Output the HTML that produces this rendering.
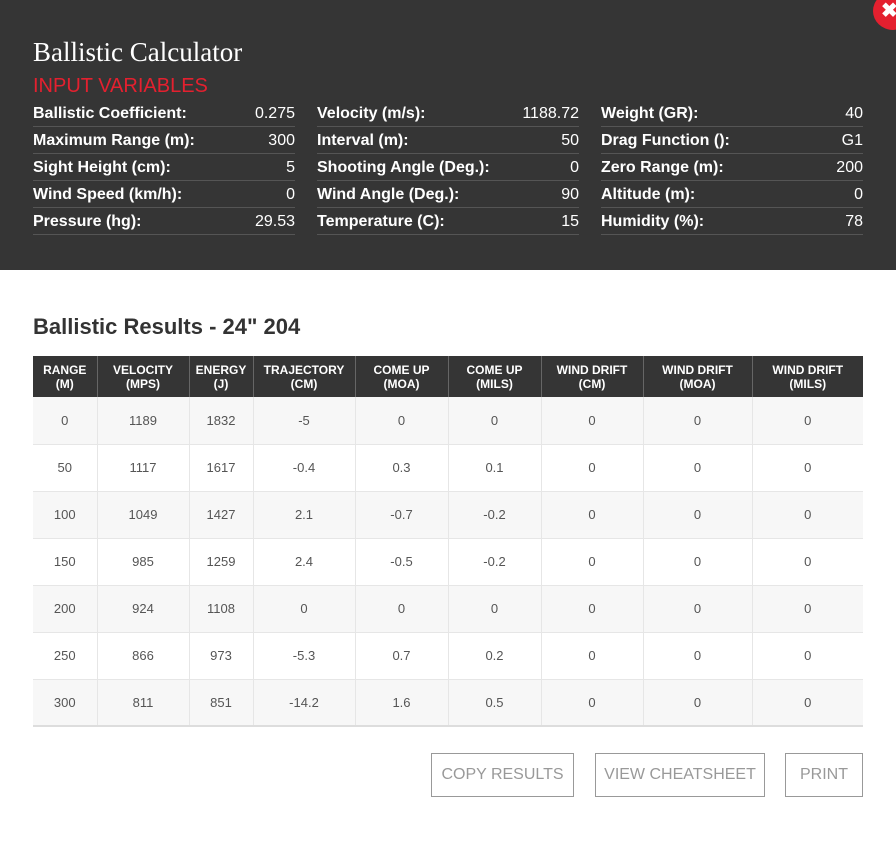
<!DOCTYPE html>
<html><head><meta charset="utf-8"><style>
*{margin:0;padding:0;box-sizing:border-box}
body{width:896px;height:851px;background:#fff;font-family:"Liberation Sans",sans-serif;position:relative;overflow:hidden}
.top{position:absolute;left:0;top:0;width:896px;height:270px;background:#353535}
.close{position:absolute;left:873px;top:-8px;width:40px;height:38px;border-radius:50%;background:#e4202f;color:#fff;font-weight:bold;font-size:20px;line-height:38px;padding-left:8px}
h1{position:absolute;left:33px;top:37px;font-family:"Liberation Serif",serif;font-weight:normal;color:#fff;font-size:27px}
.iv{position:absolute;left:33px;top:75px;color:#e4202f;font-size:20px}
.col{position:absolute;top:100px;width:262px}
.r{height:27px;border-bottom:1px solid #555;display:flex;justify-content:space-between;align-items:center;color:#fff;font-size:16px;padding-top:1px}
.r b{font-weight:bold}
h2{position:absolute;left:33px;top:314px;font-size:22px;color:#333;font-weight:bold}
table{position:absolute;left:33px;top:356px;width:830px;border-collapse:collapse;font-size:13px;color:#555;border-bottom:2px solid #ddd}
th{background:#353535;color:#fff;font-size:12px;font-weight:bold;height:41px;line-height:14px;border-left:1px solid #666;padding-top:1px}
th:first-child{border-left:none}
td{height:47px;text-align:center;border-left:1px solid #e6e6e6;border-bottom:1px solid #e6e6e6}
td:first-child{border-left:none}
tr:nth-child(even) td{background:#f7f7f7}
.btn{position:absolute;top:753px;height:44px;border:1px solid #999;color:#999;font-size:16px;text-align:center;line-height:42px}
</style></head><body>
<div class="top"></div>
<div class="close">✖</div>
<h1>Ballistic Calculator</h1>
<div class="iv">INPUT VARIABLES</div>
<div class="col" style="left:33px">
<div class="r"><b>Ballistic Coefficient:</b><span>0.275</span></div>
<div class="r"><b>Maximum Range (m):</b><span>300</span></div>
<div class="r"><b>Sight Height (cm):</b><span>5</span></div>
<div class="r"><b>Wind Speed (km/h):</b><span>0</span></div>
<div class="r"><b>Pressure (hg):</b><span>29.53</span></div>
</div>
<div class="col" style="left:317px">
<div class="r"><b>Velocity (m/s):</b><span>1188.72</span></div>
<div class="r"><b>Interval (m):</b><span>50</span></div>
<div class="r"><b>Shooting Angle (Deg.):</b><span>0</span></div>
<div class="r"><b>Wind Angle (Deg.):</b><span>90</span></div>
<div class="r"><b>Temperature (C):</b><span>15</span></div>
</div>
<div class="col" style="left:601px">
<div class="r"><b>Weight (GR):</b><span>40</span></div>
<div class="r"><b>Drag Function ():</b><span>G1</span></div>
<div class="r"><b>Zero Range (m):</b><span>200</span></div>
<div class="r"><b>Altitude (m):</b><span>0</span></div>
<div class="r"><b>Humidity (%):</b><span>78</span></div>
</div>
<h2>Ballistic Results - 24" 204</h2>
<table>
<colgroup><col style="width:64px"><col style="width:92px"><col style="width:64px"><col style="width:102px"><col style="width:93px"><col style="width:93px"><col style="width:102px"><col style="width:109px"><col style="width:111px"></colgroup>
<tr><th>RANGE<br>(M)</th><th>VELOCITY<br>(MPS)</th><th>ENERGY<br>(J)</th><th>TRAJECTORY<br>(CM)</th><th>COME UP<br>(MOA)</th><th>COME UP<br>(MILS)</th><th>WIND DRIFT<br>(CM)</th><th>WIND DRIFT<br>(MOA)</th><th>WIND DRIFT<br>(MILS)</th></tr>
<tr><td>0</td><td>1189</td><td>1832</td><td>-5</td><td>0</td><td>0</td><td>0</td><td>0</td><td>0</td></tr>
<tr><td>50</td><td>1117</td><td>1617</td><td>-0.4</td><td>0.3</td><td>0.1</td><td>0</td><td>0</td><td>0</td></tr>
<tr><td>100</td><td>1049</td><td>1427</td><td>2.1</td><td>-0.7</td><td>-0.2</td><td>0</td><td>0</td><td>0</td></tr>
<tr><td>150</td><td>985</td><td>1259</td><td>2.4</td><td>-0.5</td><td>-0.2</td><td>0</td><td>0</td><td>0</td></tr>
<tr><td>200</td><td>924</td><td>1108</td><td>0</td><td>0</td><td>0</td><td>0</td><td>0</td><td>0</td></tr>
<tr><td>250</td><td>866</td><td>973</td><td>-5.3</td><td>0.7</td><td>0.2</td><td>0</td><td>0</td><td>0</td></tr>
<tr><td>300</td><td>811</td><td>851</td><td>-14.2</td><td>1.6</td><td>0.5</td><td>0</td><td>0</td><td>0</td></tr>
</table>
<div class="btn" style="left:431px;width:143px">COPY RESULTS</div>
<div class="btn" style="left:595px;width:170px">VIEW CHEATSHEET</div>
<div class="btn" style="left:785px;width:78px">PRINT</div>
</body></html>
